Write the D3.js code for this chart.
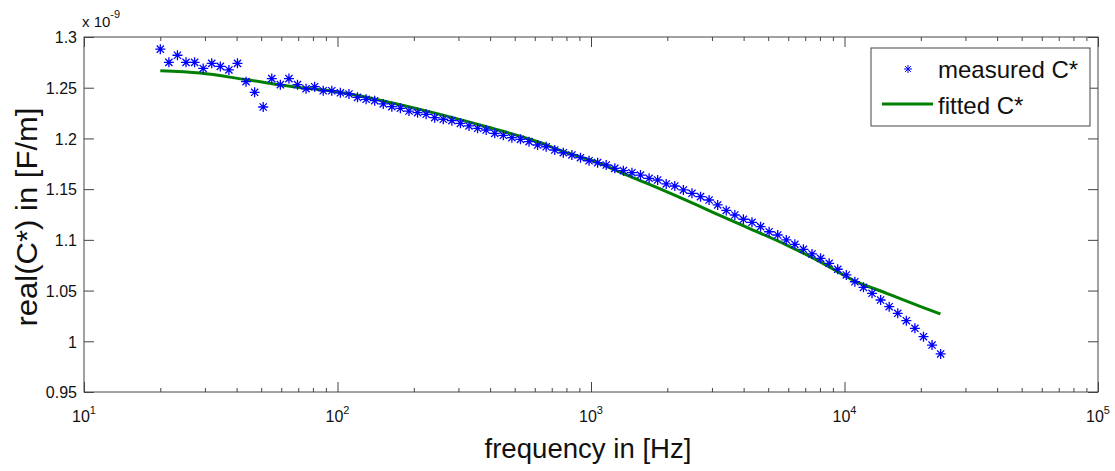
<!DOCTYPE html>
<html>
<head>
<meta charset="utf-8">
<script src="https://cdn.jsdelivr.net/npm/d3@7"></script>
<style>
  body { margin: 0; background: #fff; }
  svg { display: block; font-family: "Liberation Sans", Arial, sans-serif; }
</style>
</head>
<body>
<svg></svg>
<script>
// Data (values in units of 1e-9 F/m)
const freqs = [20, 21.62, 23.37, 25.26, 27.31, 29.52, 31.91, 34.5, 37.29, 40.31,
  43.58, 47.11, 50.92, 55.05, 59.51, 64.33, 69.54, 75.17, 81.26, 87.84,
  94.96, 102.65, 110.97, 119.96, 129.67, 140.18, 151.53, 163.81, 177.08, 191.42,
  206.93, 223.69, 241.81, 261.4, 282.57, 305.46, 330.2, 356.95, 385.86, 417.12,
  450.91, 487.43, 526.91, 569.59, 615.73, 665.6, 719.52, 777.8, 840.8, 908.9,
  982.52, 1062.1, 1148.1, 1241.1, 1341.7, 1450.4, 1567.8, 1694.8, 1832.1, 1980.5,
  2140.9, 2314.3, 2501.8, 2704.4, 2923.5, 3160.3, 3416.3, 3693, 3992.1, 4315.5,
  4665, 5042.9, 5451.4, 5893, 6370.3, 6886.3, 7444.1, 8047.1, 8698.9, 9403.5,
  10165, 10989, 11879, 12841, 13881, 15005, 16221, 17535, 18955, 20490,
  22150, 23944];

const measured = [1.288, 1.275, 1.282, 1.275, 1.275, 1.269, 1.274, 1.271, 1.2675, 1.274,
  1.256, 1.2455, 1.231, 1.259, 1.253, 1.259, 1.253, 1.249, 1.251, 1.247,
  1.247, 1.245, 1.2438, 1.2405, 1.2386, 1.2372, 1.234, 1.2313, 1.2297, 1.227,
  1.2254, 1.2238, 1.2205, 1.2189, 1.2175, 1.2149, 1.2123, 1.21, 1.2083, 1.205,
  1.2031, 1.2007, 1.1991, 1.1968, 1.1935, 1.1918, 1.1886, 1.1859, 1.1837, 1.181,
  1.178, 1.1761, 1.1738, 1.1705, 1.1682, 1.1662, 1.1639, 1.1607, 1.159, 1.1551,
  1.1531, 1.1492, 1.1459, 1.1426, 1.1393, 1.1344, 1.129, 1.1245, 1.1203, 1.1173,
  1.113, 1.108, 1.1048, 1.0999, 1.0956, 1.0907, 1.0861, 1.0818, 1.0769, 1.071,
  1.0654, 1.0587, 1.0532, 1.0473, 1.0407, 1.0341, 1.0276, 1.0203, 1.0128, 1.0045,
  0.9963, 0.9875];

const fitFreqs = [20, 28.7, 43.9, 71.1, 102, 138, 254, 400, 629, 776, 1053, 1425,
  1923, 2612, 3534, 4355, 5916, 8000, 10800, 14660, 19860, 23900];
const fitted = [1.2668, 1.2645, 1.2578, 1.2502, 1.2455, 1.2392, 1.2237, 1.2105, 1.196, 1.1872,
  1.1765, 1.1625, 1.149, 1.1344, 1.1196, 1.1097, 1.0949, 1.0785, 1.0604, 1.0473,
  1.0345, 1.027];

const xTickExps = [1, 2, 3, 4, 5];
const yTicks = [0.95, 1, 1.05, 1.1, 1.15, 1.2, 1.25, 1.3];
const legendLabels = ["measured C*", "fitted C*"];

const width = 1115, height = 471;
const margin = { top: 37, right: 17, bottom: 79, left: 84 };
const axisColor = "#444";
const textColor = "#111";

const svg = d3.select("svg").attr("width", width).attr("height", height);

const x = d3.scaleLog()
  .domain([10, 1e5])
  .range([margin.left, width - margin.right]);

const y = d3.scaleLinear()
  .domain([0.95, 1.3])
  .range([height - margin.bottom, margin.top]);

const isMajor = d => Math.abs(Math.log10(d) - Math.round(Math.log10(d))) < 1e-9;
const xAll = x.ticks();

// bottom and top axes (ticks pointing inward)
const xb = svg.append("g")
  .attr("transform", `translate(0,${y.range()[0]})`)
  .call(d3.axisBottom(x).tickValues(xAll).tickFormat("").tickSizeOuter(0));
xb.selectAll(".tick line").attr("y2", d => isMajor(d) ? -10 : -4);

const xt = svg.append("g")
  .attr("transform", `translate(0,${y.range()[1]})`)
  .call(d3.axisTop(x).tickValues(xAll).tickFormat("").tickSizeOuter(0));
xt.selectAll(".tick line").attr("y2", d => isMajor(d) ? 10 : 4);

// left and right axes
const yl = svg.append("g")
  .attr("transform", `translate(${x.range()[0]},0)`)
  .call(d3.axisLeft(y).tickValues(yTicks).tickSizeOuter(0)
    .tickFormat(d => String(+d.toFixed(2))));
yl.selectAll(".tick line").attr("x2", 10);
yl.selectAll(".tick text").attr("x", -7).attr("dy", "0.36em");

const yr = svg.append("g")
  .attr("transform", `translate(${x.range()[1]},0)`)
  .call(d3.axisRight(y).tickValues(yTicks).tickFormat("").tickSizeOuter(0));
yr.selectAll(".tick line").attr("x2", -10);

svg.selectAll(".domain").remove();
svg.selectAll(".tick line").attr("stroke", axisColor);
svg.selectAll(".tick text")
  .attr("font-size", 16)
  .attr("font-family", "Liberation Sans, Arial, sans-serif")
  .attr("fill", textColor);

// frame
svg.append("rect")
  .attr("x", x.range()[0])
  .attr("y", y.range()[1])
  .attr("width", x.range()[1] - x.range()[0])
  .attr("height", y.range()[0] - y.range()[1])
  .attr("fill", "none")
  .attr("stroke", axisColor)
  .attr("stroke-width", 1);

// x tick labels 10^n
const xl = svg.append("g").attr("fill", textColor);
xTickExps.forEach(e => {
  const t = xl.append("text")
    .attr("x", x(Math.pow(10, e)))
    .attr("y", y.range()[0] + 30)
    .attr("text-anchor", "middle")
    .attr("font-size", 16);
  t.append("tspan").text("10");
  t.append("tspan").attr("dy", -8).attr("font-size", 11).text(e);
});

// exponent note
const ex = svg.append("text")
  .attr("x", 82).attr("y", 27)
  .attr("font-size", 15)
  .attr("fill", textColor);
ex.append("tspan").text("x 10");
ex.append("tspan").attr("dy", -9).attr("font-size", 11).text("-9");

// axis titles
svg.append("text")
  .attr("x", 588).attr("y", 458)
  .attr("text-anchor", "middle")
  .attr("font-size", 28)
  .attr("textLength", 207)
  .attr("lengthAdjust", "spacingAndGlyphs")
  .attr("fill", textColor)
  .text("frequency in [Hz]");

svg.append("text")
  .attr("transform", "translate(37,217) rotate(-90)")
  .attr("text-anchor", "middle")
  .attr("font-size", 30)
  .attr("textLength", 219)
  .attr("lengthAdjust", "spacingAndGlyphs")
  .attr("fill", textColor)
  .text("real(C*) in [F/m]");

// fitted line
const line = d3.line().x(d => x(d[0])).y(d => y(d[1])).curve(d3.curveMonotoneX);
svg.append("path")
  .datum(fitFreqs.map((f, i) => [f, fitted[i]]))
  .attr("d", line)
  .attr("fill", "none")
  .attr("stroke", "#008000")
  .attr("stroke-width", 3);

// asterisk markers
function star(g, r, w) {
  const d = r * 0.72;
  g.append("path")
    .attr("d", `M0,${-r}V${r}M${-r},0H${r}M${-d},${-d}L${d},${d}M${-d},${d}L${d},${-d}`)
    .attr("stroke", "#0000ff")
    .attr("stroke-width", w)
    .attr("fill", "none");
}

svg.append("g")
  .selectAll("g")
  .data(freqs.map((f, i) => [f, measured[i]]))
  .join("g")
  .attr("transform", d => `translate(${x(d[0])},${y(d[1])})`)
  .each(function() { star(d3.select(this), 5, 1.3); });

// legend
const lg = svg.append("g");
lg.append("rect")
  .attr("x", 871).attr("y", 48)
  .attr("width", 219).attr("height", 78)
  .attr("fill", "#fff")
  .attr("stroke", axisColor);
star(lg.append("g").attr("transform", "translate(908,69)"), 4, 1);
lg.append("line")
  .attr("x1", 882).attr("x2", 933)
  .attr("y1", 104).attr("y2", 104)
  .attr("stroke", "#008000").attr("stroke-width", 3);
lg.selectAll("text.lab")
  .data(legendLabels)
  .join("text")
  .attr("class", "lab")
  .attr("x", 938)
  .attr("y", (d, i) => 78 + i * 36)
  .attr("font-size", 24)
  .attr("fill", textColor)
  .text(d => d);
</script>
</body>
</html>
